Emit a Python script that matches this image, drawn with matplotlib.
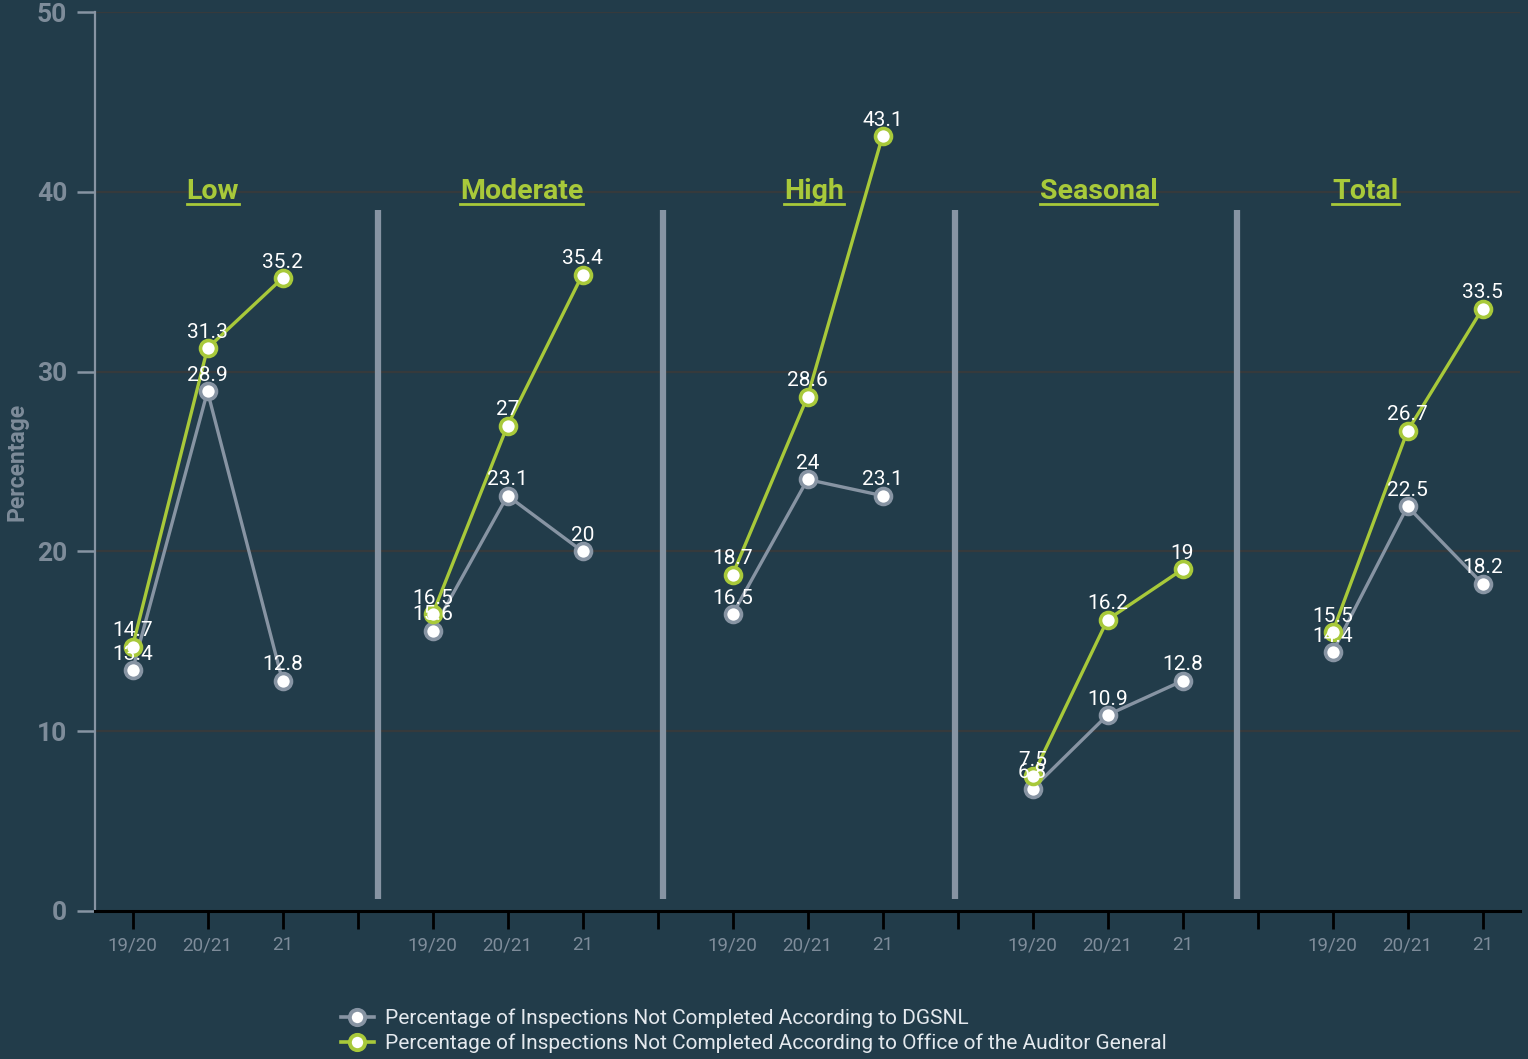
import matplotlib
matplotlib.use("Agg")
import matplotlib.pyplot as plt
from matplotlib.lines import Line2D

# ---- data ----
groups = ["Low", "Moderate", "High", "Seasonal", "Total"]
periods = ["19/20", "20/21", "21"]
dgsnl = [[13.4, 28.9, 12.8],
         [15.6, 23.1, 20.0],
         [16.5, 24.0, 23.1],
         [6.8, 10.9, 12.8],
         [14.4, 22.5, 18.2]]
oag = [[14.7, 31.3, 35.2],
       [16.5, 27.0, 35.4],
       [18.7, 28.6, 43.1],
       [7.5, 16.2, 19.0],
       [15.5, 26.7, 33.5]]
series_names = ["Percentage of Inspections Not Completed According to DGSNL",
                "Percentage of Inspections Not Completed According to Office of the Auditor General"]
y_ticks = [0, 10, 20, 30, 40, 50]

# ---- style ----
BG = "#223c4a"
GRAY = "#8794a3"
GREEN = "#a8c93a"
TICKGRAY = "#7e8c9a"
FONT = "Roboto"
plt.rcParams["font.family"] = [FONT, "DejaVu Sans"]

fig = plt.figure(figsize=(15.28, 10.59), dpi=100, facecolor=BG)
ax = fig.add_axes([95/1528, 1-911/1059, (1520-95)/1528, (911-12)/1059])
ax.set_facecolor(BG)

slot = 4
ax.set_xlim(-0.5, (len(groups)-1)*slot + len(periods) - 1 + 0.5)
ax.set_ylim(0, 50)

for yv in y_ticks[1:]:
    ax.axhline(yv, color="#363a3c", lw=1.6, zorder=1)

# separators
sep_pos = [3.27, 7.07, 10.97, 14.73]
for s in sep_pos:
    ax.plot([s, s], [0.65, 39.0], color=GRAY, lw=4.5, solid_capstyle="butt", zorder=2)

# series
for g in range(len(groups)):
    xs = [g*slot + j for j in range(len(periods))]
    for vals, col in ((dgsnl[g], GRAY), (oag[g], GREEN)):
        ax.plot(xs, vals, color=col, lw=2.4, marker="o", ms=11.5, mfc="white",
                mec=col, mew=2.6, zorder=3)
    for vals in (dgsnl[g], oag[g]):
        for x, v in zip(xs, vals):
            lab = f"{v:g}"
            ax.annotate(lab, (x, v), xytext=(0, 11.5), textcoords="offset points",
                        ha="center", va="center", color="white", fontsize=15,
                        zorder=5)

# group titles
title_pos = [1.07, 5.19, 9.09, 12.88, 16.44]
title_texts = []
for name, xp in zip(groups, title_pos):
    t = ax.text(xp, 40.0, name, ha="center", va="center", color=GREEN,
                fontsize=20.5, fontweight="bold", zorder=5)
    title_texts.append(t)

# axes
nslots = (len(groups)-1)*slot + len(periods)
ax.set_xticks(range(nslots))
labels = []
for i in range(nslots):
    j = i % slot
    labels.append(periods[j] if j < len(periods) else "")
ax.set_xticklabels(labels, fontsize=13.5, color=TICKGRAY)
ax.tick_params(axis="x", colors="black", length=13, width=2, labelcolor=TICKGRAY,
               labelsize=13.5, pad=5)
ax.set_yticks(y_ticks)
ax.set_yticklabels([str(v) for v in y_ticks], fontweight="bold", fontsize=19,
                   color=TICKGRAY)
ax.tick_params(axis="y", colors=GRAY, length=13, width=1.8, labelcolor=TICKGRAY,
               pad=7)
for sp in ["top", "right"]:
    ax.spines[sp].set_visible(False)
ax.spines["bottom"].set_color("black")
ax.spines["bottom"].set_linewidth(2.2)
ax.spines["left"].set_color(GRAY)
ax.spines["left"].set_linewidth(1.6)
ax.set_ylabel("Percentage", color=TICKGRAY, fontsize=16.5, fontweight="bold")
ax.yaxis.set_label_coords(-0.047, 0.5)

# legend
handles = [Line2D([], [], color=GRAY, lw=2.6, marker="o", ms=11, mfc="white", mec=GRAY, mew=2.8),
           Line2D([], [], color=GREEN, lw=2.6, marker="o", ms=11, mfc="white", mec=GREEN, mew=2.8)]
leg = fig.legend(handles, series_names, loc="upper left",
                 bbox_to_anchor=(333/1528, 1-1000/1059), frameon=False,
                 fontsize=15, labelcolor="#e4e9ee", handlelength=1.55,
                 handletextpad=0.55, labelspacing=0.28, borderaxespad=0)

# underline titles
fig.canvas.draw()
r = fig.canvas.get_renderer()
for t in title_texts:
    bb = t.get_window_extent(renderer=r)
    y = bb.y0 + 1.5
    fig.add_artist(Line2D([bb.x0/1528, bb.x1/1528], [y/1059, y/1059],
                          color=GREEN, lw=2.0, transform=fig.transFigure))

fig.savefig("out.png", dpi=100, facecolor=BG)
